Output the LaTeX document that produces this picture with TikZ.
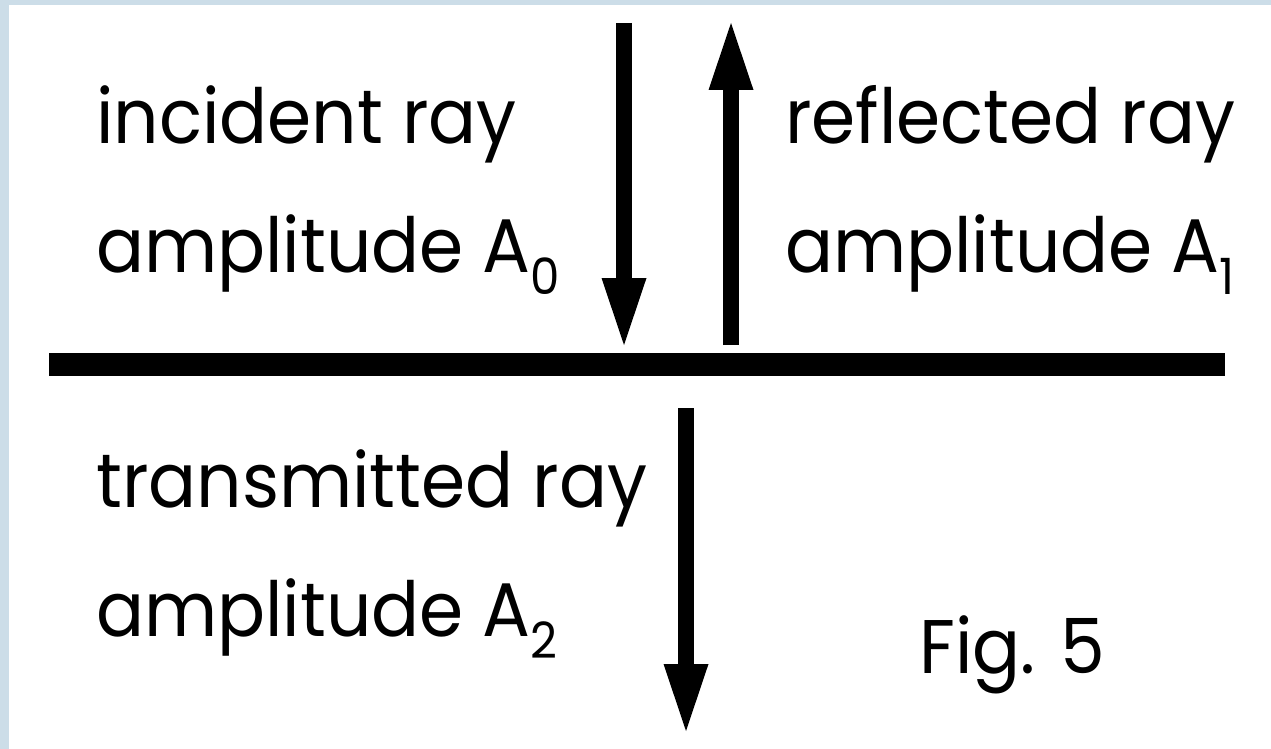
\documentclass[tikz,border=0pt]{standalone}
\usepackage{fontspec}
\setmainfont{Poppins}[FakeStretch=0.935]
\usetikzlibrary{arrows.meta}
\definecolor{frameblue}{RGB}{204,221,232}
\newcommand{\lowsub}[1]{\raisebox{-22pt}{\fontsize{50}{50}\selectfont #1}}
\tikzset{
  ray/.style={line width=16pt,-{Triangle[length=67pt,width=45pt,line width=0pt]}},
  label/.style={anchor=base west,inner sep=0pt,font=\fontsize{76}{76}\selectfont}
}
\begin{document}
\begin{tikzpicture}[x=1pt,y=-1pt]
            \useasboundingbox (0,0) rectangle (1271,749);
            \fill[frameblue] (0,0) rectangle (1271,749);
            \fill[white] (9,5) rectangle (1271,749);
            \coordinate (inA) at (624,23);
            \coordinate (inB) at (624,345);
            \coordinate (reA) at (731,345);
            \coordinate (reB) at (731,23);
            \coordinate (trA) at (686,408);
            \coordinate (trB) at (686,731);
            \coordinate (L) at (49,364.5);
            \coordinate (R) at (1225,364.5);
            \draw[line width=23pt] (L) -- (R);
            \draw[ray] (inA) -- (inB);
            \draw[ray] (reA) -- (reB);
            \draw[ray] (trA) -- (trB);
            \node[label] (inc1) at (96,143) {incident ray};
            \node[label] (inc2) at (96,272) {amplitude A\lowsub{0}};
            \node[label] (ref1) at (785,143) {reflected ray};
            \node[label] (ref2) at (785,272) {amplitude A\lowsub{1}};
            \node[label] (tra1) at (96,507) {transmitted ray};
            \node[label] (tra2) at (96,636) {amplitude A\lowsub{2}};
            \node[label] (fig) at (919,673) {Fig. 5};
\end{tikzpicture}
\end{document}
